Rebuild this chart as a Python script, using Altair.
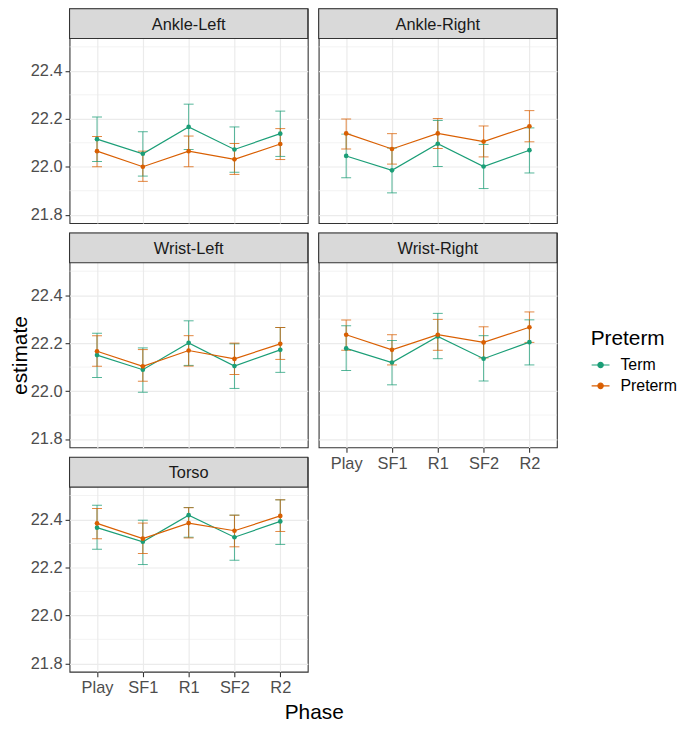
import altair as alt
import pandas as pd

PHASES = ["Play", "SF1", "R1", "SF2", "R2"]
GROUPS = ["Term", "Preterm"]
COLORS = ["#1B9E77", "#D95F02"]
PANELS = ["Ankle-Left", "Ankle-Right", "Wrist-Left", "Wrist-Right", "Torso"]

# Ankle-Left
AL_TERM_EST = [22.115, 22.054, 22.166, 22.072, 22.138]
AL_TERM_LO = [22.022, 21.961, 22.072, 21.977, 22.043]
AL_TERM_HI = [22.207, 22.146, 22.261, 22.166, 22.232]
AL_PRE_EST = [22.065, 22.000, 22.065, 22.031, 22.095]
AL_PRE_LO = [22.000, 21.939, 22.000, 21.968, 22.030]
AL_PRE_HI = [22.126, 22.065, 22.128, 22.097, 22.159]
# Ankle-Right
AR_TERM_EST = [22.045, 21.985, 22.096, 22.001, 22.069]
AR_TERM_LO = [21.954, 21.891, 22.001, 21.909, 21.974]
AR_TERM_HI = [22.136, 22.078, 22.193, 22.093, 22.162]
AR_PRE_EST = [22.139, 22.074, 22.139, 22.105, 22.169]
AR_PRE_LO = [22.074, 22.011, 22.076, 22.041, 22.104]
AR_PRE_HI = [22.199, 22.138, 22.201, 22.170, 22.234]
# Wrist-Left
WL_TERM_EST = [22.150, 22.089, 22.201, 22.104, 22.172]
WL_TERM_LO = [22.057, 21.995, 22.107, 22.011, 22.078]
WL_TERM_HI = [22.241, 22.180, 22.293, 22.197, 22.265]
WL_PRE_EST = [22.166, 22.103, 22.169, 22.134, 22.197]
WL_PRE_LO = [22.103, 22.041, 22.104, 22.069, 22.132]
WL_PRE_HI = [22.231, 22.173, 22.231, 22.200, 22.265]
# Wrist-Right
WR_TERM_EST = [22.178, 22.119, 22.228, 22.135, 22.204]
WR_TERM_LO = [22.086, 22.026, 22.135, 22.042, 22.109]
WR_TERM_HI = [22.272, 22.211, 22.324, 22.231, 22.297]
WR_PRE_EST = [22.235, 22.172, 22.235, 22.203, 22.266]
WR_PRE_LO = [22.170, 22.109, 22.170, 22.138, 22.203]
WR_PRE_HI = [22.296, 22.235, 22.299, 22.268, 22.330]
# Torso
TO_TERM_EST = [22.366, 22.307, 22.418, 22.326, 22.392]
TO_TERM_LO = [22.276, 22.212, 22.326, 22.230, 22.296]
TO_TERM_HI = [22.459, 22.397, 22.450, 22.418, 22.482]
TO_PRE_EST = [22.384, 22.320, 22.385, 22.353, 22.415]
TO_PRE_LO = [22.320, 22.258, 22.323, 22.286, 22.350]
TO_PRE_HI = [22.446, 22.385, 22.449, 22.418, 22.482]

Y_MAJOR = [21.8, 22.0, 22.2, 22.4]
Y_MINOR = [21.9, 22.1, 22.3, 22.5]
Y_MIN, Y_MAX = 21.765, 22.535

SERIES = {
    "Ankle-Left": {"Term": (AL_TERM_EST, AL_TERM_LO, AL_TERM_HI), "Preterm": (AL_PRE_EST, AL_PRE_LO, AL_PRE_HI)},
    "Ankle-Right": {"Term": (AR_TERM_EST, AR_TERM_LO, AR_TERM_HI), "Preterm": (AR_PRE_EST, AR_PRE_LO, AR_PRE_HI)},
    "Wrist-Left": {"Term": (WL_TERM_EST, WL_TERM_LO, WL_TERM_HI), "Preterm": (WL_PRE_EST, WL_PRE_LO, WL_PRE_HI)},
    "Wrist-Right": {"Term": (WR_TERM_EST, WR_TERM_LO, WR_TERM_HI), "Preterm": (WR_PRE_EST, WR_PRE_LO, WR_PRE_HI)},
    "Torso": {"Term": (TO_TERM_EST, TO_TERM_LO, TO_TERM_HI), "Preterm": (TO_PRE_EST, TO_PRE_LO, TO_PRE_HI)},
}

rows = []
for panel in PANELS:
    for g in GROUPS:
        est, lo, hi = SERIES[panel][g]
        for i, ph in enumerate(PHASES):
            rows.append({"panel": panel, "group": g, "phase": ph,
                         "estimate": est[i], "lo": lo[i], "hi": hi[i]})
df = pd.DataFrame(rows)
minor_df = pd.DataFrame({"v": Y_MINOR})

W = 240
STRIP_H = 30
PLOT_H = 186
H = STRIP_H + PLOT_H
Y_TOP = Y_MAX + STRIP_H * (Y_MAX - Y_MIN) / PLOT_H

FONT = "Liberation Sans"
GRID = "#EBEBEB"
BORDER = "#333333"

LEGEND_PATH = ("M-1,0H1M-0.3,0A0.3,0.3,0,1,1,0.3,0A0.3,0.3,0,1,1,-0.3,0Z")

color_enc = alt.Color(
    "group:N",
    scale=alt.Scale(domain=GROUPS, range=COLORS),
    legend=alt.Legend(
        title="Preterm", orient="none", legendX=525, legendY=322,
        symbolType=LEGEND_PATH, symbolSize=324, symbolStrokeWidth=1.2,
        symbolOpacity=1,
        titleFontSize=21, titleFontWeight="normal", titleColor="black",
        titleFont=FONT, labelFont=FONT, labelFontSize=16, labelColor="black",
        titlePadding=6, rowPadding=3, labelOffset=10, padding=0,
    ),
)


def panel(name, show_x, show_y, y_title=None, x_title=None):
    d = df[df.panel == name]
    x_axis = alt.Axis(
        labelAngle=0, grid=True, gridColor=GRID, gridWidth=1.2, domain=False,
        labels=show_x, ticks=show_x, tickColor=BORDER, tickSize=5, tickWidth=1.1,
        labelFont=FONT, labelFontSize=16.5, labelColor="#4D4D4D", labelPadding=3,
        title=x_title if x_title else None,
        titleFont=FONT, titleFontSize=21, titleFontWeight="normal", titleColor="black",
        titleX=246, titlePadding=6,
    )
    y_axis = alt.Axis(
        values=Y_MAJOR, format=".1f", grid=True, gridColor=GRID, gridWidth=1.2,
        domain=False, labels=show_y, ticks=show_y, tickColor=BORDER, tickSize=4.5,
        tickWidth=1.1, labelFont=FONT, labelFontSize=16.5, labelColor="#4D4D4D",
        labelPadding=3,
        title=y_title if y_title else None,
        titleFont=FONT, titleFontSize=21, titleFontWeight="normal", titleColor="black",
        titleY=STRIP_H + PLOT_H / 2, titlePadding=0,
    )
    xs = alt.Scale(type="point", padding=0.6, domain=PHASES)
    ys = alt.Scale(domain=[Y_MIN, Y_TOP], nice=False, zero=False)
    x = alt.X("phase:N", sort=PHASES, scale=xs, axis=x_axis)

    base = alt.Chart(d)
    minor = alt.Chart(minor_df).mark_rule(color=GRID, strokeWidth=0.6).encode(
        y=alt.Y("v:Q", scale=ys, axis=y_axis))
    bars = base.mark_rule(strokeWidth=1.0, opacity=0.75).encode(
        x=x, y=alt.Y("lo:Q", scale=ys, axis=y_axis), y2="hi:Q", color=color_enc)
    cap_lo = base.mark_tick(orient="horizontal", size=10, thickness=1.0, opacity=0.75).encode(
        x=x, y=alt.Y("lo:Q", scale=ys, axis=y_axis), color=color_enc)
    cap_hi = base.mark_tick(orient="horizontal", size=10, thickness=1.0, opacity=0.75).encode(
        x=x, y=alt.Y("hi:Q", scale=ys, axis=y_axis), color=color_enc)
    lines = base.mark_line(strokeWidth=1.2).encode(
        x=x, y=alt.Y("estimate:Q", scale=ys, axis=y_axis), color=color_enc, detail="group:N")
    pts = base.mark_circle(size=22, opacity=1).encode(
        x=x, y=alt.Y("estimate:Q", scale=ys, axis=y_axis), color=color_enc)
    one = alt.Chart(pd.DataFrame({"label": [name]}))
    strip = one.mark_rect(fill="#D9D9D9", stroke=BORDER, strokeWidth=1.1).encode(
        x=alt.value(0), x2=alt.value(W), y=alt.value(0), y2=alt.value(STRIP_H))
    strip_text = one.mark_text(font=FONT, fontSize=16.5, color="#1A1A1A", baseline="middle").encode(
        x=alt.value(W / 2), y=alt.value(STRIP_H / 2 + 1), text="label:N")
    return alt.layer(minor, bars, cap_lo, cap_hi, lines, pts, strip, strip_text).properties(
        width=W, height=H)


A = panel("Ankle-Left", False, True)
B = panel("Ankle-Right", False, False)
C = panel("Wrist-Left", False, True, y_title="estimate")
D = panel("Wrist-Right", True, False)
E = panel("Torso", True, True, x_title="Phase")

chart = alt.concat(A, B, C, D, E, columns=2, spacing={"row": 10, "column": 11},
                   bounds="flush").properties(
    padding={"left": 0, "top": -4, "right": 0, "bottom": 0}
).configure_view(stroke=BORDER, strokeWidth=1.1, fill="white")

chart.save("out.html", embed_options={"renderer": "svg", "actions": False})
